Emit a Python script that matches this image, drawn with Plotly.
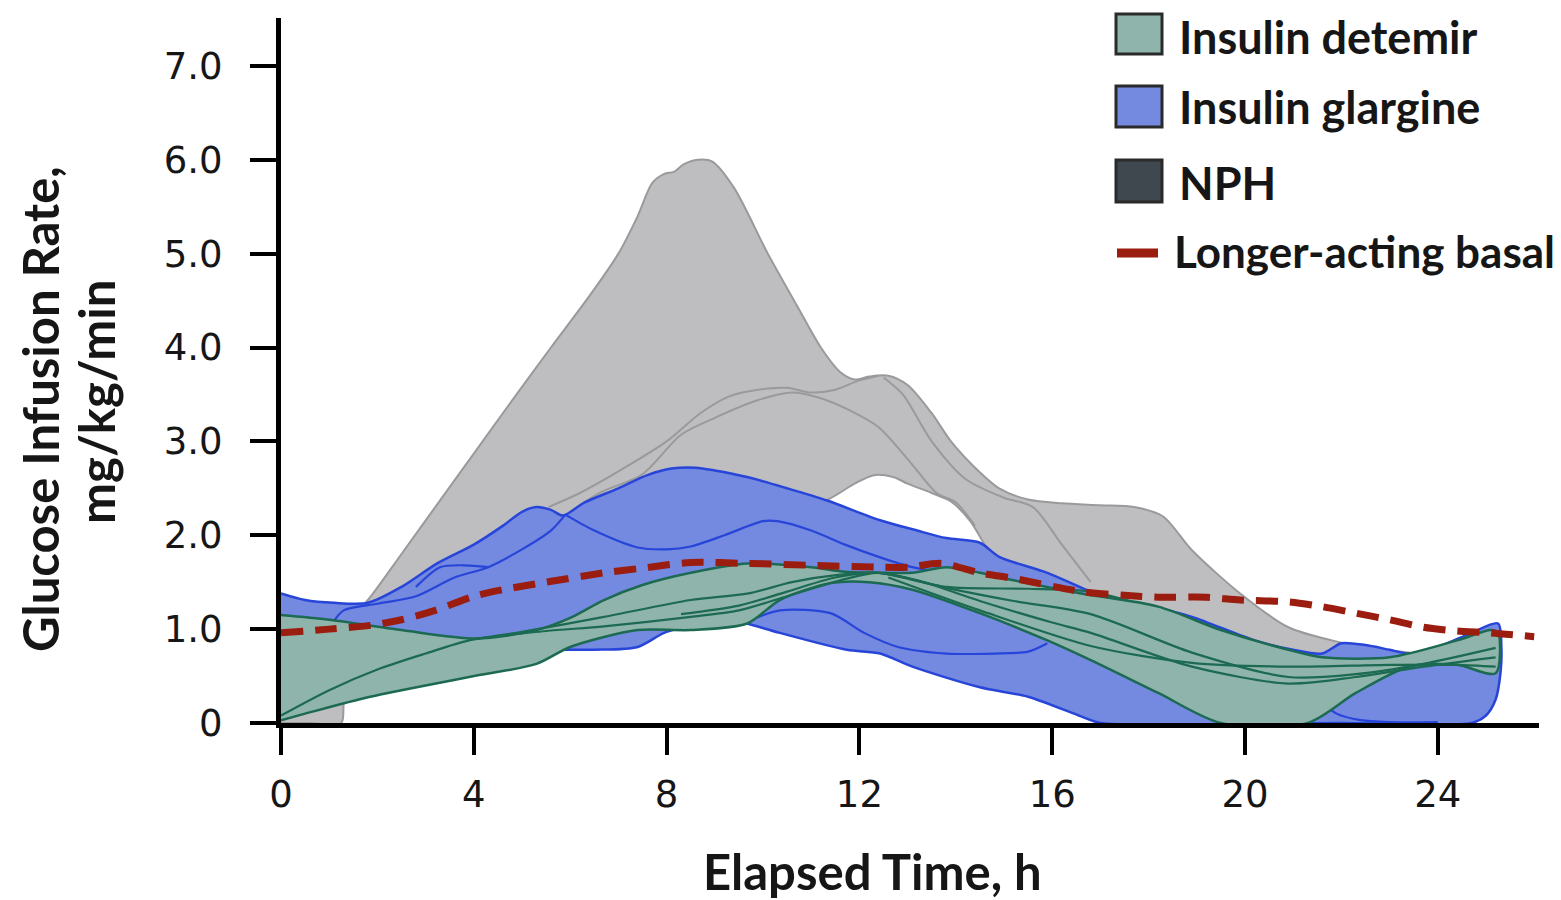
import plotly.graph_objects as go

# ---------------- data ----------------
# NPH envelope (upper edge left->right, lower edge right->left)
nph_top_x = [0.0, 0.6, 1.0, 1.25, 1.45, 1.85, 2.5, 3.2, 4.0, 4.8, 5.6, 6.4, 7.0, 7.4, 7.7, 7.95, 8.15, 8.35, 8.65, 8.95, 9.4, 10.1, 10.7, 11.2, 11.6, 11.9, 12.2, 12.6, 13.0, 13.5, 13.9, 14.4, 14.9, 15.5, 16.2, 17.0, 17.7, 18.3, 18.9, 19.9, 20.9, 21.8, 22.6, 23.6]
nph_top_y = [0.3, 0.6, 0.8, 0.95, 1.1, 1.34, 1.8, 2.3, 2.87, 3.44, 4.0, 4.55, 5.0, 5.4, 5.75, 5.85, 5.87, 5.95, 6.0, 5.98, 5.7, 5.0, 4.45, 4.0, 3.74, 3.66, 3.69, 3.7, 3.6, 3.3, 3.0, 2.72, 2.5, 2.38, 2.34, 2.32, 2.3, 2.2, 1.84, 1.38, 1.02, 0.88, 0.8, 0.74]
nph_bot_x = [23.6, 23.0, 22.0, 21.0, 20.0, 19.0, 18.0, 17.0, 16.0, 15.0, 14.6, 14.3, 13.9, 13.5, 13.0, 12.7, 12.3, 11.9, 11.3, 10.5, 9.5, 8.5, 7.5, 6.5, 5.5, 4.5, 3.5, 2.5, 1.8, 1.4, 1.3, 1.25, 0.6, 0.0]
nph_bot_y = [0.74, 0.6, 0.55, 0.6, 0.75, 0.95, 1.15, 1.3, 1.45, 1.6, 1.9, 2.15, 2.36, 2.45, 2.55, 2.62, 2.64, 2.55, 2.37, 2.3, 2.2, 2.0, 1.8, 1.6, 1.35, 1.15, 1.0, 0.85, 0.7, 0.5, 0.2, 0.0, 0.0, 0.0]
# NPH individual profile outlines
nph_l1_x = [5.55, 6.2, 7.0, 8.0, 8.7, 9.3, 9.9, 10.5, 11.0, 11.5, 12.0, 12.4]
nph_l1_y = [2.3, 2.45, 2.68, 3.0, 3.3, 3.48, 3.55, 3.57, 3.52, 3.55, 3.65, 3.7]
nph_l2_x = [6.0, 6.6, 7.5, 8.3, 9.0, 9.9, 10.6, 11.2, 11.8, 12.4, 13.1, 13.6, 14.0, 14.4]
nph_l2_y = [2.25, 2.45, 2.65, 3.07, 3.25, 3.44, 3.52, 3.46, 3.33, 3.15, 2.75, 2.45, 2.35, 2.1]
nph_l3_x = [12.5, 12.9, 13.5, 14.2, 15.0, 15.6, 16.2, 16.8]
nph_l3_y = [3.68, 3.5, 3.0, 2.6, 2.4, 2.3, 1.9, 1.5]

# Insulin glargine envelope
gla_top_x = [0.0, 0.5, 1.1, 1.8, 2.5, 3.24, 4.0, 4.6, 5.0, 5.3, 5.6, 5.85, 6.3, 7.0, 7.6, 8.1, 8.6, 9.0, 9.67, 10.5, 11.33, 12.43, 13.2, 13.8, 14.5, 14.9, 15.9, 17.0, 18.0, 18.9, 20.2, 21.0, 21.6, 22.0, 22.5, 23.0, 23.4, 24.0, 24.7, 25.25]
gla_top_y = [1.38, 1.31, 1.28, 1.28, 1.45, 1.7, 1.9, 2.1, 2.25, 2.3, 2.27, 2.21, 2.35, 2.5, 2.64, 2.71, 2.72, 2.69, 2.62, 2.5, 2.37, 2.16, 2.05, 1.97, 1.92, 1.77, 1.6, 1.36, 1.25, 1.13, 0.88, 0.78, 0.74, 0.85, 0.83, 0.78, 0.74, 0.81, 0.96, 1.06]
gla_bot_x = [25.32, 25.3, 25.2, 25.0, 24.7, 22.0, 17.0, 16.6, 15.5, 14.5, 13.1, 12.43, 11.74, 10.35, 9.67, 9.3, 8.0, 7.4, 6.5, 5.8, 5.0, 4.0, 2.0, 0.0]
gla_bot_y = [0.8, 0.53, 0.25, 0.08, 0.0, 0.0, 0.0, 0.07, 0.28, 0.38, 0.6, 0.74, 0.78, 0.96, 1.06, 1.1, 0.97, 0.81, 0.78, 0.78, 0.75, 0.75, 0.8, 0.9]
# glargine individual profile outlines
gla_l1_x = [1.05, 1.3, 2.0, 2.8, 3.6, 4.3, 5.0, 5.6, 5.9]
gla_l1_y = [1.05, 1.2, 1.27, 1.35, 1.55, 1.66, 1.85, 2.05, 2.22]
gla_l2_x = [2.8, 3.3, 3.8, 4.3]
gla_l2_y = [1.45, 1.66, 1.68, 1.66]
gla_l3_x = [5.9, 6.5, 7.4, 8.0, 8.5, 9.2, 10.0, 10.3, 11.0, 11.7, 12.4, 13.1, 13.8, 14.5, 15.2]
gla_l3_y = [2.22, 2.05, 1.87, 1.85, 1.88, 2.0, 2.15, 2.15, 2.05, 1.9, 1.77, 1.66, 1.6, 1.55, 1.52]
gla_l4_x = [9.67, 10.35, 11.4, 12.1, 12.8, 13.8, 14.8, 15.5, 15.9]
gla_l4_y = [1.08, 1.2, 1.17, 0.96, 0.81, 0.74, 0.74, 0.76, 0.85]
gla_l5_x = [21.6, 21.9, 22.4, 23.0, 24.0]
gla_l5_y = [0.22, 0.1, 0.03, 0.01, 0.01]

# Insulin detemir envelope
det_top_x = [0.0, 1.0, 2.5, 4.06, 5.3, 6.0, 6.7, 7.5, 8.5, 9.67, 11.0, 11.7, 12.5, 13.1, 13.8, 14.5, 15.2, 16.6, 18.2, 19.5, 20.9, 21.6, 23.0, 24.4, 25.1, 25.25]
det_top_y = [1.15, 1.1, 0.99, 0.9, 0.99, 1.12, 1.31, 1.47, 1.6, 1.7, 1.66, 1.61, 1.6, 1.6, 1.66, 1.6, 1.52, 1.38, 1.24, 0.99, 0.78, 0.7, 0.7, 0.88, 0.99, 0.96]
det_bot_x = [25.2, 24.4, 23.4, 22.3, 21.3, 19.5, 18.2, 16.8, 15.9, 14.5, 13.1, 12.2, 11.4, 10.35, 9.67, 8.5, 7.4, 6.0, 5.3, 3.9, 1.85, 0.5, 0.0]
det_bot_y = [0.53, 0.62, 0.6, 0.32, 0.0, 0.0, 0.32, 0.67, 0.88, 1.17, 1.42, 1.5, 1.49, 1.31, 1.06, 0.99, 0.99, 0.81, 0.63, 0.49, 0.28, 0.1, 0.03]
# detemir individual profile outlines
det_l1_x = [0.0, 1.0, 2.0, 3.0, 3.9, 5.0, 6.7, 8.5, 9.7, 10.6, 11.6, 12.4, 13.8, 15.5, 16.8, 17.6]
det_l1_y = [0.08, 0.35, 0.57, 0.74, 0.88, 0.97, 1.13, 1.31, 1.38, 1.5, 1.58, 1.6, 1.45, 1.43, 1.4, 1.3]
det_l2_x = [4.06, 5.5, 6.7, 8.5, 9.5, 10.5, 11.6, 12.4, 13.8, 15.2, 16.8, 18.9, 20.9, 22.3, 23.7, 25.2]
det_l2_y = [0.9, 0.98, 1.03, 1.13, 1.2, 1.35, 1.52, 1.6, 1.44, 1.3, 1.16, 0.75, 0.49, 0.52, 0.63, 0.8]
det_l3_x = [8.3, 9.5, 10.5, 11.5, 12.4, 13.2, 14.5, 16.0, 16.8, 18.9, 20.9, 22.3, 23.7, 25.2]
det_l3_y = [1.16, 1.25, 1.4, 1.55, 1.6, 1.52, 1.3, 1.07, 0.96, 0.6, 0.42, 0.49, 0.6, 0.7]
det_l4_x = [12.6, 14.5, 16.8, 18.9, 20.9, 23.0, 24.4, 25.2]
det_l4_y = [1.55, 1.2, 0.82, 0.64, 0.6, 0.62, 0.62, 0.6]

# Longer-acting basal (dashed)
basal_x = [0, 1, 1.85, 2.5, 3.2, 4.0, 4.6, 5.5, 6.7, 7.5, 8.5, 9.67, 11.0, 12.4, 13.0, 13.7, 14.5, 15.2, 16.6, 17.5, 18.2, 19.2, 19.9, 20.9, 21.6, 22.3, 23.0, 23.7, 24.4, 25.1, 26.0]
basal_y = [0.96, 1.0, 1.04, 1.1, 1.2, 1.35, 1.42, 1.5, 1.6, 1.65, 1.71, 1.7, 1.68, 1.66, 1.66, 1.7, 1.6, 1.54, 1.4, 1.36, 1.34, 1.34, 1.31, 1.29, 1.24, 1.17, 1.1, 1.02, 0.98, 0.96, 0.92]

x_ticks = [0, 4, 8, 12, 16, 20, 24]
y_ticks = [0, 1, 2, 3, 4, 5, 6, 7]
y_tick_text = ["0", "1.0", "2.0", "3.0", "4.0", "5.0", "6.0", "7.0"]

legend_names = ["Insulin detemir", "Insulin glargine", "NPH", "Longer-acting basal"]
x_title = "Elapsed Time, h"
y_title_lines = ["Glucose Infusion Rate,", "mg/kg/min"]

# ---------------- styles ----------------
GRAY_FILL, GRAY_LINE = "#bebec1", "#9a9a9d"
BLUE_FILL, BLUE_LINE = "#7489e0", "#2745d8"
GREEN_FILL, GREEN_LINE = "#8fb4ab", "#1c6a52"
RED = "#9a1d0f"
NPH_LEGEND = "#3f474f"
TXT = "#161616"

fig = go.Figure()


def band(xt, yt, xb, yb, fill, line, width):
    fig.add_trace(go.Scatter(
        x=xt + xb, y=yt + yb, mode="lines", fill="toself", fillcolor=fill,
        line=dict(color=line, width=width, shape="spline", smoothing=0.8),
        hoverinfo="skip", showlegend=False))


def outline(x, y, color, width):
    fig.add_trace(go.Scatter(
        x=x, y=y, mode="lines",
        line=dict(color=color, width=width, shape="spline", smoothing=0.8),
        hoverinfo="skip", showlegend=False))


band(nph_top_x, nph_top_y, nph_bot_x, nph_bot_y, GRAY_FILL, GRAY_LINE, 2)
for lx, ly in [(nph_l1_x, nph_l1_y), (nph_l2_x, nph_l2_y), (nph_l3_x, nph_l3_y)]:
    outline(lx, ly, GRAY_LINE, 2)

band(gla_top_x, gla_top_y, gla_bot_x, gla_bot_y, BLUE_FILL, BLUE_LINE, 2.5)
for lx, ly in [(gla_l1_x, gla_l1_y), (gla_l2_x, gla_l2_y), (gla_l3_x, gla_l3_y),
               (gla_l4_x, gla_l4_y), (gla_l5_x, gla_l5_y)]:
    outline(lx, ly, BLUE_LINE, 2.2)

band(det_top_x, det_top_y, det_bot_x, det_bot_y, GREEN_FILL, GREEN_LINE, 2.5)
for lx, ly in [(det_l1_x, det_l1_y), (det_l2_x, det_l2_y), (det_l3_x, det_l3_y),
               (det_l4_x, det_l4_y)]:
    outline(lx, ly, GREEN_LINE, 2.2)

fig.add_trace(go.Scatter(
    x=basal_x, y=basal_y, mode="lines", name=legend_names[3],
    line=dict(color=RED, width=7, dash="22px,12px", shape="spline", smoothing=0.8),
    hoverinfo="skip", showlegend=False))

# ---------------- layout helpers (pixel -> paper) ----------------
L, R, T, B = 281, 22, 18, 177
W, H = 1561, 900
pw, ph = W - L - R, H - T - B


def px(x):
    return (x - L) / pw


def py(y):
    return (H - B - y) / ph


# ---------------- custom legend ----------------
boxes = [(14, 54, GREEN_FILL), (86, 127, BLUE_FILL), (160, 202, NPH_LEGEND)]
for (y0, y1, c) in boxes:
    fig.add_shape(type="rect", xref="paper", yref="paper",
                  x0=px(1116), x1=px(1162), y0=py(y1), y1=py(y0),
                  fillcolor=c, line=dict(color="#2a2a2a", width=3))
fig.add_shape(type="line", xref="paper", yref="paper",
              x0=px(1117), x1=px(1158), y0=py(253), y1=py(253),
              line=dict(color=RED, width=9))
legend_y = [37, 107, 183, 251]
legend_x = [1177, 1177, 1177, 1172]
legend_size = [45, 45, 45, 44]
for name, lx, ly, fs in zip(legend_names, legend_x, legend_y, legend_size):
    fig.add_annotation(text="<b>" + name + "</b>", xref="paper", yref="paper",
                       x=px(lx), y=py(ly), xanchor="left", yanchor="middle",
                       showarrow=False,
                       font=dict(family="Lato", size=fs, color=TXT))

# ---------------- axis titles ----------------
fig.add_annotation(text="<b>" + x_title + "</b>", xref="paper", yref="paper",
                   x=px(872), y=py(871), xanchor="center", yanchor="middle",
                   showarrow=False, font=dict(family="Lato", size=49, color=TXT))
for txt, cx, cy in zip(y_title_lines, [40, 96], [409, 402]):
    fig.add_annotation(text="<b>" + txt + "</b>", xref="paper", yref="paper",
                       x=px(cx), y=py(cy), xanchor="center", yanchor="middle",
                       textangle=-90, showarrow=False,
                       font=dict(family="Lato", size=49, color=TXT))

fig.update_layout(
    width=W, height=H,
    margin=dict(l=L, r=R, t=T, b=B, autoexpand=False),
    paper_bgcolor="white", plot_bgcolor="white",
    showlegend=False,
    xaxis=dict(
        range=[0, 26.1], tickvals=x_ticks, ticktext=[str(v) for v in x_ticks],
        showgrid=False, zeroline=False, showline=True, linecolor="black", linewidth=5,
        ticks="outside", ticklen=27, tickwidth=4, tickcolor="black",
        tickfont=dict(family="DejaVu Sans", size=37, color=TXT),
        ticklabelstandoff=8, automargin=False,
    ),
    yaxis=dict(
        range=[0, 7.51], tickvals=y_ticks, ticktext=y_tick_text,
        showgrid=False, zeroline=False, showline=True, linecolor="black", linewidth=5,
        ticks="outside", ticklen=26, tickwidth=3.5, tickcolor="black",
        tickfont=dict(family="DejaVu Sans", size=37, color=TXT),
        ticklabelstandoff=20, automargin=False,
    ),
)

# remove the browser's default 8px page margin so the figure fills the window exactly
fig.write_html("out.html", config={"displayModeBar": False},
               post_script="document.body.style.margin='0';document.body.style.overflow='hidden';")
